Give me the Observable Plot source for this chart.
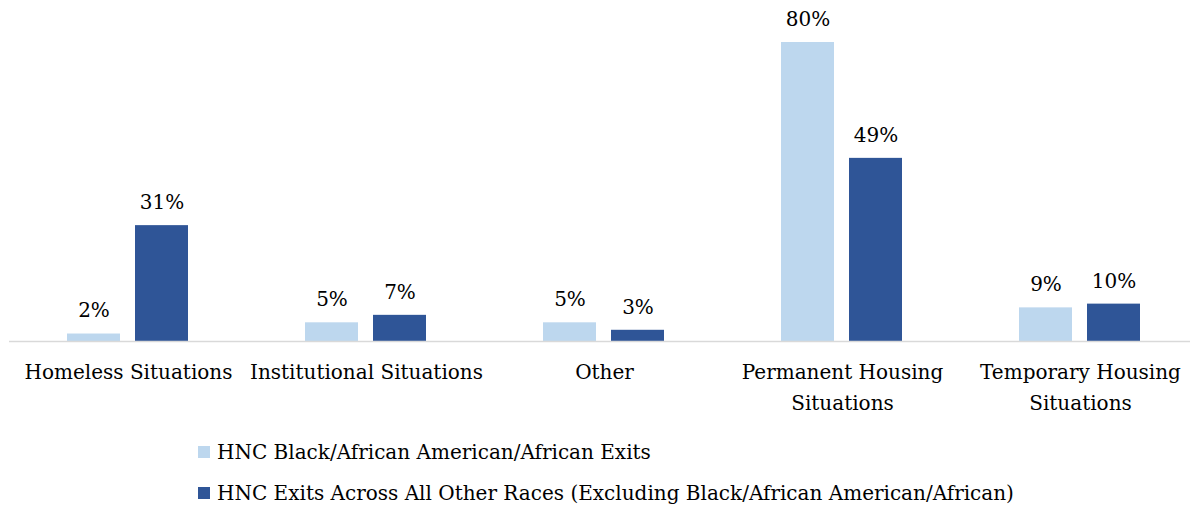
<!DOCTYPE html>
<html>
<head>
<meta charset="utf-8">
<script src="https://cdn.jsdelivr.net/npm/d3@7"></script>
<script src="https://cdn.jsdelivr.net/npm/@observablehq/plot@0.6"></script>
<style>
  html, body { margin: 0; padding: 0; background: #fff; }
  body { width: 1190px; height: 512px; overflow: hidden; font-family: "DejaVu Serif", serif; }
  #chart { position: relative; }
  #legend { position: absolute; left: 198px; top: 0; font-size: 20px; color: #000; }
  .item { position: absolute; left: 0; white-space: nowrap; display: flex; align-items: center; }
  .sw { width: 12px; height: 12px; margin-right: 7px; }
</style>
</head>
<body>
<div id="chart"></div>
<div id="legend"></div>
<script>
const categories = ["Homeless Situations", "Institutional Situations", "Other", "Permanent Housing Situations", "Temporary Housing Situations"];
const categoryLabels = ["Homeless Situations", "Institutional Situations", "Other", "Permanent Housing\nSituations", "Temporary Housing\nSituations"];
const seriesNames = ["HNC Black/African American/African Exits", "HNC Exits Across All Other Races (Excluding Black/African American/African)"];
const blackExits = [2, 5, 5, 80, 9];
const otherExits = [31, 7, 3, 49, 10];
const colors = ["#BDD7EE", "#2F5597"];

const data = [];
categories.forEach((c, i) => {
  data.push({category: c, series: seriesNames[0], value: blackExits[i]});
  data.push({category: c, series: seriesNames[1], value: otherExits[i]});
});
const labelData = categories.map((c, i) => ({category: c, label: categoryLabels[i]}));

const font = '"DejaVu Serif", serif';
const chart = Plot.plot({
  width: 1190,
  height: 425,
  marginLeft: 8,
  marginRight: 2,
  marginTop: 42,
  marginBottom: 84,
  style: {fontFamily: font, fontSize: "20px", color: "#000", background: "#fff", overflow: "hidden"},
  fx: {domain: categories, padding: 0, axis: null, range: [8.5, 1198.5]},
  x: {domain: seriesNames, paddingInner: 0.22, paddingOuter: 0.86, axis: null},
  y: {domain: [0, 80], axis: null},
  color: {domain: seriesNames, range: colors},
  marks: [
    Plot.barY(data, {fx: "category", x: "series", y: "value", fill: "series"}),
    Plot.ruleY([0], {stroke: "#D9D9D9", strokeWidth: 1.5}),
    Plot.text(data, {fx: "category", x: "series", y: "value", text: d => d.value + "%", dy: -23, fontSize: 20, fill: "#000"}),
    Plot.text(labelData, {fx: "category", text: "label", frameAnchor: "bottom", lineAnchor: "top", dy: 15, lineHeight: 1.55, fontSize: 20, fill: "#000"})
  ]
});
document.getElementById("chart").appendChild(chart);

const legend = document.getElementById("legend");
seriesNames.forEach((s, i) => {
  const item = document.createElement("div");
  item.className = "item";
  item.style.top = (i === 0 ? 440 : 481) + "px";
  const sw = document.createElement("div");
  sw.className = "sw";
  sw.style.background = colors[i];
  const t = document.createElement("span");
  t.textContent = s;
  item.appendChild(sw);
  item.appendChild(t);
  legend.appendChild(item);
});
</script>
</body>
</html>
